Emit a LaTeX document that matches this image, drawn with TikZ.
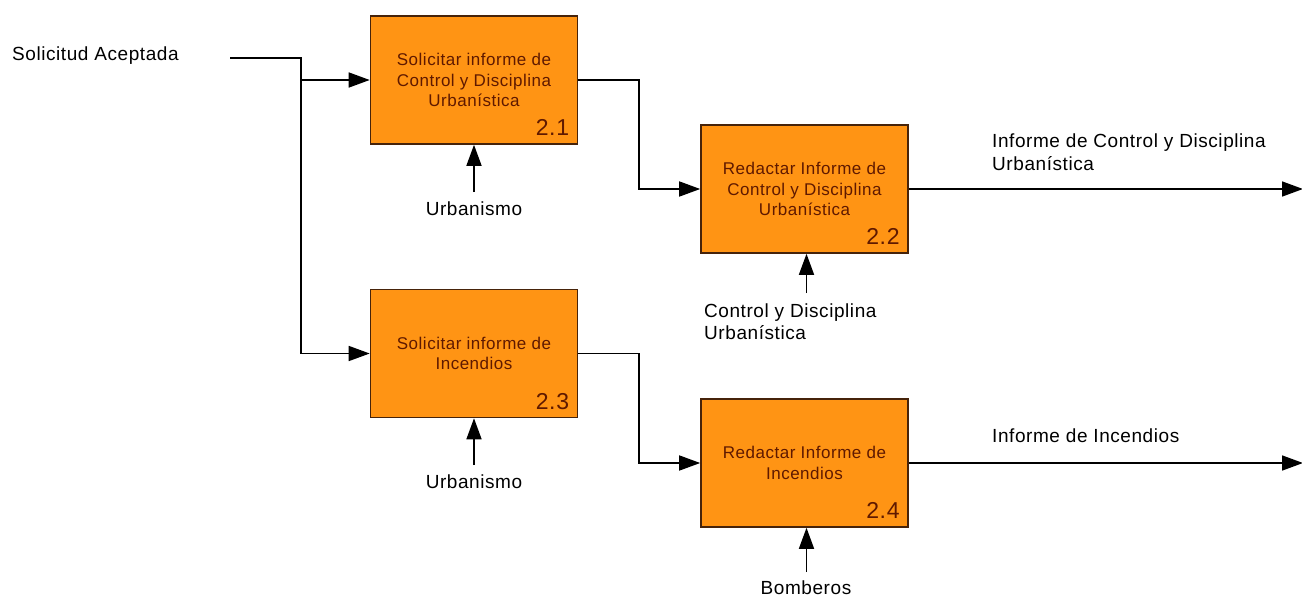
\documentclass[tikz,border=0pt]{standalone}
\usepackage{fontspec}
\setmainfont{Liberation Sans}[LetterSpace=3]
\usetikzlibrary{arrows.meta}
\definecolor{boxfill}{RGB}{255,148,20}
\definecolor{boxline}{RGB}{70,35,10}
\definecolor{boxtext}{RGB}{95,25,0}
\tikzset{
  proc/.style={draw=boxline, line width=1.6pt, fill=boxfill, minimum width=207pt,
    minimum height=128pt, inner sep=0pt, align=center, text=boxtext,
    font=\fontsize{17}{20.5}\selectfont},
  num/.style={anchor=base east, inner sep=0pt, text=boxtext,
    font=\fontsize{23}{23}\selectfont, xshift=-9pt, yshift=9pt},
  lbl/.style={inner sep=0pt, font=\fontsize{19}{22.5}\selectfont, text=black},
  conn/.style={line width=1.6pt, draw=black},
  arr/.style={conn, -{Triangle[length=21pt,width=15pt]}}
}
\begin{document}
\begin{tikzpicture}[x=1pt,y=-1pt]
\useasboundingbox[fill=white] (0,0) rectangle (1302,597);

% process boxes
\node[proc] (b21) at (474,80) {Solicitar informe de\\Control y Disciplina\\Urbanística};
\node[proc] (b22) at (804.5,189) {Redactar Informe de\\Control y Disciplina\\Urbanística};
\node[proc] (b23) at (474,353.5) {Solicitar informe de\\Incendios};
\node[proc] (b24) at (804.5,463) {Redactar Informe de\\Incendios};

\node[num] (n21) at (b21.south east) {2.1};
\node[num] (n22) at (b22.south east) {2.2};
\node[num] (n23) at (b23.south east) {2.3};
\node[num] (n24) at (b24.south east) {2.4};

% labels
\node[lbl, anchor=west] (sol) at (12,56) {Solicitud Aceptada};
\node[lbl] (urb1) at (474,209) {Urbanismo};
\node[lbl] (urb2) at (474,482) {Urbanismo};
\node[lbl, anchor=west, align=left] (cdu) at (704,321.5) {Control y Disciplina\\Urbanística};
\node[lbl] (bom) at (806,588) {Bomberos};
\node[lbl, anchor=west, align=left] (out1) at (992,152) {Informe de Control y Disciplina\\Urbanística};
\node[lbl, anchor=west] (out2) at (992,436) {Informe de Incendios};

% coordinates
\coordinate (s0) at (230,58);
\coordinate (jn) at (301,58);
\coordinate (k1) at (639,0);
\coordinate (cu1) at (474,192);
\coordinate (cu2) at (474,465);
\coordinate (cc) at (806.5,293);
\coordinate (cb) at (806.5,572);
\coordinate (oe) at (1303,0);

% connectors
\draw[arr] (s0) -- (jn) |- (b23.west);
\draw[arr] (jn |- b21.west) -- (b21.west);
\draw[arr] (b21.east) -- (b21.east -| k1) |- (b22.west);
\draw[arr] (b23.east) -- (b23.east -| k1) |- (b24.west);
\draw[arr] (cu1) -- (b21.south);
\draw[arr] (cu2) -- (b23.south);
\draw[arr] (cc) -- (b22.south -| cc);
\draw[arr] (cb) -- (b24.south -| cb);
\draw[arr] (b22.east) -- (b22.east -| oe);
\draw[arr] (b24.east) -- (b24.east -| oe);
\end{tikzpicture}
\end{document}
